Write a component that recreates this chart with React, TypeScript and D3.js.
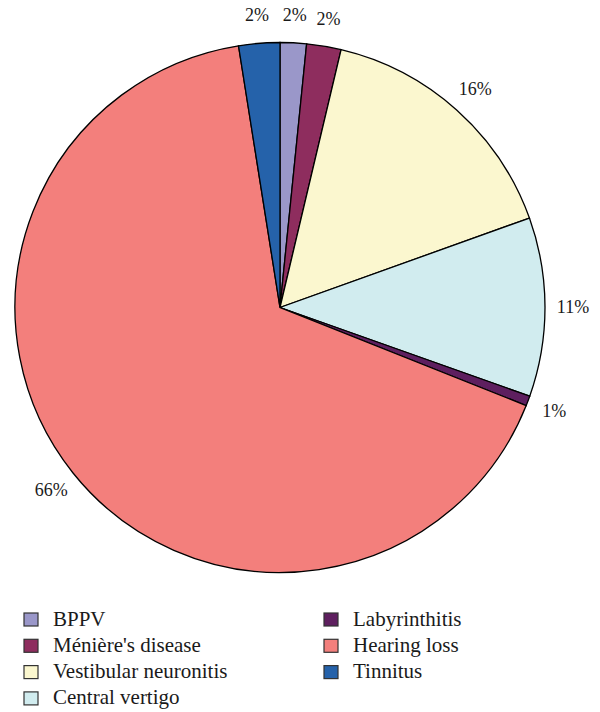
import React, { useEffect, useRef } from "react";
import * as d3 from "d3";

const categories = ["BPPV", "Ménière's disease", "Vestibular neuronitis", "Central vertigo", "Labyrinthitis", "Hearing loss", "Tinnitus"];
const values = [1.6, 2.1, 15.8, 10.9, 0.6, 66.4, 2.5];
const pctLabels = ["2%", "2%", "16%", "11%", "1%", "66%", "2%"];
const colors = ["#9a97c9", "#8e2d5e", "#fbf7cf", "#d1ecef", "#5e1f5f", "#f37f7c", "#2562aa"];

// legend layout: left column first, then right column
const legendCols = [[0, 1, 2, 3], [4, 5, 6]];

const App = () => {
	const ref = useRef(null);

	useEffect(() => {
		const svg = d3.select(ref.current);
		svg.selectAll("*").remove();

		const cx = 280;
		const cy = 307.5;
		const radius = 265;

		const data = categories.map((name, i) => ({ name, value: values[i], label: pctLabels[i], color: colors[i] }));

		const pie = d3.pie().value((d) => d.value).sort(null);
		const arc = d3.arc().innerRadius(0).outerRadius(radius);
		const labelArc = d3.arc().innerRadius(293).outerRadius(293);

		const g = svg.append("g").attr("transform", `translate(${cx},${cy})`);
		const arcs = pie(data);

		g.selectAll("path")
			.data(arcs)
			.enter()
			.append("path")
			.attr("d", arc)
			.attr("fill", (d) => d.data.color)
			.attr("stroke", "#000")
			.attr("stroke-width", 1.3);

		g.selectAll("text")
			.data(arcs)
			.enter()
			.append("text")
			.attr("transform", (d) => `translate(${labelArc.centroid(d)})`)
			.attr("text-anchor", "middle")
			.attr("dominant-baseline", "central")
			.attr("font-family", "Liberation Serif")
			.attr("font-size", 18)
			.attr("fill", "#1a1a1a")
			.text((d) => d.data.label);

		// legend
		const colX = [24, 324];
		const rowY = 613;
		const rowH = 26.3;
		legendCols.forEach((col, ci) => {
			col.forEach((idx, ri) => {
				const lg = svg.append("g").attr("transform", `translate(${colX[ci]},${rowY + ri * rowH})`);
				lg.append("rect")
					.attr("width", 14)
					.attr("height", 13)
					.attr("fill", colors[idx])
					.attr("stroke", "#333")
					.attr("stroke-width", 1.2);
				lg.append("text")
					.attr("x", 29)
					.attr("y", 5.5)
					.attr("dominant-baseline", "central")
					.attr("font-family", "Liberation Serif")
					.attr("font-size", 21)
					.attr("fill", "#1a1a1a")
					.text(categories[idx]);
			});
		});
	}, []);

	return (
		<svg ref={ref} width={600} height={712} style={{ position: "absolute", left: 0, top: 0 }} />
	);
};

export default App;
